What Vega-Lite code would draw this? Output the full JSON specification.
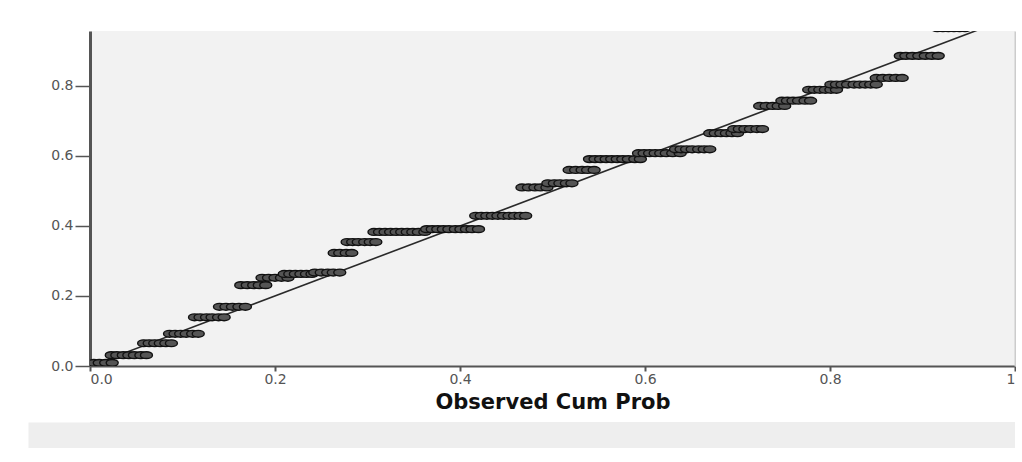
{
  "$schema": "https://vega.github.io/schema/vega-lite/v6.json",
  "autosize": {"type": "pad"},
  "padding": {"left": 15, "top": 31, "right": 0, "bottom": 0},
  "background": "white",
  "datasets": {
    "pts": [
      {"x": 0.004, "y": 0.009}, {"x": 0.010, "y": 0.009}, {"x": 0.017, "y": 0.009}, {"x": 0.024, "y": 0.009},
      {"x": 0.023, "y": 0.031}, {"x": 0.029, "y": 0.031}, {"x": 0.036, "y": 0.031}, {"x": 0.042, "y": 0.031}, {"x": 0.048, "y": 0.031}, {"x": 0.055, "y": 0.031}, {"x": 0.061, "y": 0.031},
      {"x": 0.058, "y": 0.065}, {"x": 0.064, "y": 0.065}, {"x": 0.070, "y": 0.065}, {"x": 0.076, "y": 0.065}, {"x": 0.082, "y": 0.065}, {"x": 0.088, "y": 0.065},
      {"x": 0.086, "y": 0.092}, {"x": 0.092, "y": 0.092}, {"x": 0.098, "y": 0.092}, {"x": 0.104, "y": 0.092}, {"x": 0.111, "y": 0.092}, {"x": 0.117, "y": 0.092},
      {"x": 0.113, "y": 0.139}, {"x": 0.119, "y": 0.139}, {"x": 0.126, "y": 0.139}, {"x": 0.132, "y": 0.139}, {"x": 0.139, "y": 0.139}, {"x": 0.145, "y": 0.139},
      {"x": 0.140, "y": 0.169}, {"x": 0.147, "y": 0.169}, {"x": 0.154, "y": 0.169}, {"x": 0.161, "y": 0.169}, {"x": 0.168, "y": 0.169},
      {"x": 0.163, "y": 0.231}, {"x": 0.170, "y": 0.231}, {"x": 0.177, "y": 0.231}, {"x": 0.183, "y": 0.231}, {"x": 0.190, "y": 0.231},
      {"x": 0.186, "y": 0.252}, {"x": 0.193, "y": 0.252}, {"x": 0.200, "y": 0.252}, {"x": 0.207, "y": 0.252}, {"x": 0.214, "y": 0.252},
      {"x": 0.210, "y": 0.263}, {"x": 0.216, "y": 0.263}, {"x": 0.222, "y": 0.263}, {"x": 0.228, "y": 0.263}, {"x": 0.234, "y": 0.263}, {"x": 0.240, "y": 0.263},
      {"x": 0.243, "y": 0.267}, {"x": 0.250, "y": 0.267}, {"x": 0.257, "y": 0.267}, {"x": 0.263, "y": 0.267}, {"x": 0.270, "y": 0.267},
      {"x": 0.264, "y": 0.323}, {"x": 0.270, "y": 0.323}, {"x": 0.277, "y": 0.323}, {"x": 0.283, "y": 0.323},
      {"x": 0.278, "y": 0.354}, {"x": 0.284, "y": 0.354}, {"x": 0.290, "y": 0.354}, {"x": 0.297, "y": 0.354}, {"x": 0.303, "y": 0.354}, {"x": 0.309, "y": 0.354},
      {"x": 0.307, "y": 0.383}, {"x": 0.313, "y": 0.383}, {"x": 0.319, "y": 0.383}, {"x": 0.325, "y": 0.383}, {"x": 0.331, "y": 0.383}, {"x": 0.337, "y": 0.383}, {"x": 0.343, "y": 0.383}, {"x": 0.349, "y": 0.383}, {"x": 0.355, "y": 0.383}, {"x": 0.362, "y": 0.383},
      {"x": 0.364, "y": 0.391}, {"x": 0.370, "y": 0.391}, {"x": 0.376, "y": 0.391}, {"x": 0.382, "y": 0.391}, {"x": 0.388, "y": 0.391}, {"x": 0.395, "y": 0.391}, {"x": 0.401, "y": 0.391}, {"x": 0.407, "y": 0.391}, {"x": 0.413, "y": 0.391}, {"x": 0.420, "y": 0.391},
      {"x": 0.417, "y": 0.429}, {"x": 0.423, "y": 0.429}, {"x": 0.429, "y": 0.429}, {"x": 0.435, "y": 0.429}, {"x": 0.441, "y": 0.429}, {"x": 0.447, "y": 0.429}, {"x": 0.453, "y": 0.429}, {"x": 0.459, "y": 0.429}, {"x": 0.465, "y": 0.429}, {"x": 0.471, "y": 0.429},
      {"x": 0.467, "y": 0.510}, {"x": 0.474, "y": 0.510}, {"x": 0.481, "y": 0.510}, {"x": 0.487, "y": 0.510}, {"x": 0.494, "y": 0.510},
      {"x": 0.495, "y": 0.522}, {"x": 0.502, "y": 0.522}, {"x": 0.508, "y": 0.522}, {"x": 0.515, "y": 0.522}, {"x": 0.521, "y": 0.522},
      {"x": 0.518, "y": 0.560}, {"x": 0.525, "y": 0.560}, {"x": 0.532, "y": 0.560}, {"x": 0.538, "y": 0.560}, {"x": 0.545, "y": 0.560},
      {"x": 0.540, "y": 0.591}, {"x": 0.546, "y": 0.591}, {"x": 0.552, "y": 0.591}, {"x": 0.558, "y": 0.591}, {"x": 0.564, "y": 0.591}, {"x": 0.570, "y": 0.591}, {"x": 0.576, "y": 0.591}, {"x": 0.582, "y": 0.591}, {"x": 0.589, "y": 0.591}, {"x": 0.595, "y": 0.591},
      {"x": 0.593, "y": 0.608}, {"x": 0.599, "y": 0.608}, {"x": 0.605, "y": 0.608}, {"x": 0.611, "y": 0.608}, {"x": 0.617, "y": 0.608}, {"x": 0.623, "y": 0.608}, {"x": 0.630, "y": 0.608}, {"x": 0.638, "y": 0.608},
      {"x": 0.633, "y": 0.619}, {"x": 0.639, "y": 0.619}, {"x": 0.645, "y": 0.619}, {"x": 0.651, "y": 0.619}, {"x": 0.658, "y": 0.619}, {"x": 0.664, "y": 0.619}, {"x": 0.670, "y": 0.619},
      {"x": 0.670, "y": 0.665}, {"x": 0.676, "y": 0.665}, {"x": 0.682, "y": 0.665}, {"x": 0.688, "y": 0.665}, {"x": 0.694, "y": 0.665}, {"x": 0.700, "y": 0.665},
      {"x": 0.696, "y": 0.677}, {"x": 0.702, "y": 0.677}, {"x": 0.708, "y": 0.677}, {"x": 0.714, "y": 0.677}, {"x": 0.721, "y": 0.677}, {"x": 0.727, "y": 0.677},
      {"x": 0.724, "y": 0.743}, {"x": 0.731, "y": 0.743}, {"x": 0.738, "y": 0.743}, {"x": 0.744, "y": 0.743}, {"x": 0.751, "y": 0.743},
      {"x": 0.748, "y": 0.758}, {"x": 0.754, "y": 0.758}, {"x": 0.760, "y": 0.758}, {"x": 0.766, "y": 0.758}, {"x": 0.773, "y": 0.758}, {"x": 0.779, "y": 0.758},
      {"x": 0.777, "y": 0.789}, {"x": 0.783, "y": 0.789}, {"x": 0.789, "y": 0.789}, {"x": 0.795, "y": 0.789}, {"x": 0.801, "y": 0.789}, {"x": 0.807, "y": 0.789},
      {"x": 0.801, "y": 0.804}, {"x": 0.807, "y": 0.804}, {"x": 0.813, "y": 0.804}, {"x": 0.819, "y": 0.804}, {"x": 0.826, "y": 0.804}, {"x": 0.832, "y": 0.804}, {"x": 0.838, "y": 0.804}, {"x": 0.844, "y": 0.804}, {"x": 0.850, "y": 0.804},
      {"x": 0.850, "y": 0.823}, {"x": 0.857, "y": 0.823}, {"x": 0.864, "y": 0.823}, {"x": 0.871, "y": 0.823}, {"x": 0.878, "y": 0.823},
      {"x": 0.876, "y": 0.886}, {"x": 0.882, "y": 0.886}, {"x": 0.889, "y": 0.886}, {"x": 0.896, "y": 0.886}, {"x": 0.903, "y": 0.886}, {"x": 0.910, "y": 0.886}, {"x": 0.917, "y": 0.886},
      {"x": 0.916, "y": 0.965}, {"x": 0.922, "y": 0.965}, {"x": 0.928, "y": 0.965}, {"x": 0.934, "y": 0.965}, {"x": 0.940, "y": 0.965}, {"x": 0.946, "y": 0.965}
    ],
    "diag": [{"x": 0, "y": 0}, {"x": 1, "y": 1}],
    "footer": [{"v": 0.5}]
  },
  "vconcat": [
    {
      "width": 925,
      "height": 335,
      "view": {"fill": "#f2f2f2", "stroke": null},
      "encoding": {
        "x": {
          "field": "x", "type": "quantitative",
          "scale": {"domain": [0, 1], "nice": false, "zero": false},
          "axis": {
            "title": "Observed Cum Prob",
            "titleFont": "DejaVu Sans", "titleFontSize": 21, "titleFontWeight": "bold", "titleColor": "#111111",
            "titlePadding": 5,
            "values": [0, 0.2, 0.4, 0.6, 0.8, 1],
            "labelExpr": "datum.value == 1 ? '1' : format(datum.value, '.1f')",
            "labelFont": "DejaVu Sans", "labelFontSize": 14, "labelColor": "#555555", "labelPadding": 1,
            "domainColor": "#555555", "domainWidth": 2,
            "tickColor": "#555555", "tickSize": 5, "tickWidth": 2,
            "grid": false
          }
        },
        "y": {
          "field": "y", "type": "quantitative",
          "scale": {"domain": [0, 0.957], "nice": false, "zero": false},
          "axis": {
            "title": null,
            "values": [0, 0.2, 0.4, 0.6, 0.8],
            "format": ".1f",
            "labelFont": "DejaVu Sans", "labelFontSize": 14, "labelColor": "#555555", "labelPadding": 2,
            "domainColor": "#555555", "domainWidth": 3,
            "tickColor": "#555555", "tickSize": 15, "tickWidth": 1.5,
            "minExtent": 62, "maxExtent": 62,
            "grid": false
          }
        }
      },
      "layer": [
        {
          "data": {"name": "diag"},
          "mark": {"type": "line", "color": "#2a2a2a", "strokeWidth": 1.6, "clip": true},
          "encoding": {
            "y": {
              "field": "y", "type": "quantitative",
              "axis": {"orient": "right", "title": null, "labels": false, "ticks": false, "grid": false, "domainColor": "#cccccc", "domainWidth": 2, "minExtent": 0, "maxExtent": 0}
            }
          }
        },
        {
          "data": {"name": "pts"},
          "mark": {
            "type": "point",
            "shape": "M -1 0 A 1 0.57 0 1 0 1 0 A 1 0.57 0 1 0 -1 0 Z",
            "size": 144,
            "filled": false,
            "fill": "#555555",
            "stroke": "#111111",
            "strokeWidth": 1.4,
            "opacity": 1,
            "clip": true
          }
        }
      ],
      "resolve": {"axis": {"y": "independent"}}
    },
    {
      "width": 925,
      "height": 26,
      "view": {"fill": "#eeeeee", "stroke": null},
      "data": {"name": "footer"},
      "mark": {"type": "text", "text": ""},
      "encoding": {
        "y": {
          "field": "v", "type": "quantitative",
          "scale": {"domain": [0, 1], "nice": false},
          "axis": {"title": null, "values": [0.5], "labels": false, "domain": false, "grid": false, "tickSize": 62, "tickWidth": 26, "tickColor": "#eeeeee", "tickCap": "butt", "minExtent": 62, "maxExtent": 62}
        }
      }
    }
  ],
  "spacing": 10,
  "config": {"view": {"stroke": null}}
}
